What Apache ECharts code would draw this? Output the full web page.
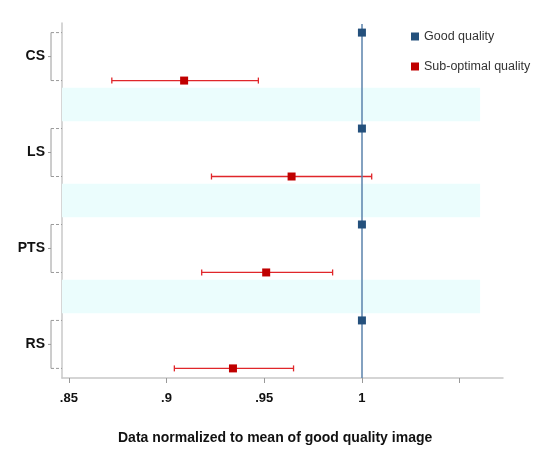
<!DOCTYPE html>
<html>
<head>
<meta charset="utf-8">
<script src="https://cdn.jsdelivr.net/npm/echarts@6/dist/echarts.min.js"></script>
<style>
  html, body { margin: 0; padding: 0; background: #fff; }
  #chart { width: 539px; height: 450px; }
</style>
</head>
<body>
<div id="chart"></div>
<script>
// 分组（自上而下）
var groups = ['CS', 'LS', 'PTS', 'RS'];
// 次优质量：均值及置信区间
var subMean = [0.909, 0.964, 0.951, 0.934];
var subLow = [0.872, 0.923, 0.918, 0.904];
var subHigh = [0.947, 1.005, 0.985, 0.965];
// 良好质量（归一化基准）
var goodMean = [1, 1, 1, 1];
// x 轴刻度
var xTicks = [0.85, 0.9, 0.95, 1, 1.05];
var xTickLabels = ['.85', '.9', '.95', '1', ''];

var FONT = "'Liberation Sans', Arial, sans-serif";

// 每组占两行：良好在上，次优在下
var goodData = goodMean.map(function (v, i) { return [v, i * 2]; });
var subData = subMean.map(function (v, i) { return [v, i * 2 + 1]; });
var errData = subLow.map(function (v, i) { return [v, subHigh[i], i * 2 + 1]; });
var bracketData = groups.map(function (g, i) { return [i * 2, i * 2 + 1]; });
var bands = [];
for (var i = 0; i < groups.length - 1; i++) {
    bands.push([{ yAxis: i * 2 + 1.15, xAxis: 0.8465 }, { yAxis: i * 2 + 1.85, xAxis: 1.0605 }]);
}

var myChart = echarts.init(document.getElementById('chart'));

myChart.setOption({
    animation: false,
    grid: { left: 62, right: 36, top: 23, bottom: 72 },
    legend: {
        orient: 'vertical',
        left: 406,
        top: 25,
        itemGap: 17,
        itemWidth: 8,
        itemHeight: 8,
        icon: 'rect',
        textStyle: { fontFamily: FONT, fontSize: 12.5, color: '#333' },
        data: ['Good quality', 'Sub-optimal quality']
    },
    graphic: [{
        type: 'text',
        left: 118,
        top: 431,
        style: {
            text: 'Data normalized to mean of good quality image',
            font: "bold 14px " + FONT,
            fill: '#111'
        }
    }],
    xAxis: {
        type: 'value',
        position: 'bottom',
        min: 0.8465,
        max: 1.0722,
        splitLine: { show: false },
        axisLine: { show: true, onZero: false, lineStyle: { color: '#c8c8c8', width: 1.5 } },
        axisTick: { show: true, customValues: xTicks, length: 5, lineStyle: { color: '#999' } },
        axisLabel: {
            customValues: xTicks,
            margin: 14,
            fontFamily: FONT,
            fontWeight: 'bold',
            fontSize: 13,
            color: '#111',
            formatter: function (v) {
                var k = xTicks.findIndex(function (t) { return Math.abs(t - v) < 1e-6; });
                return k >= 0 ? xTickLabels[k] : '';
            }
        }
    },
    yAxis: {
        type: 'value',
        position: 'left',
        inverse: true,
        min: -0.2,
        max: 7.2,
        splitLine: { show: false },
        axisLine: { show: true, onZero: false, lineStyle: { color: '#c8c8c8', width: 1.5 } },
        axisTick: { show: false },
        axisLabel: {
            customValues: groups.map(function (g, i) { return i * 2 + 0.5; }),
            margin: 17,
            fontFamily: FONT,
            fontWeight: 'bold',
            fontSize: 14,
            color: '#111',
            formatter: function (v) { return groups[Math.round((v - 0.5) / 2)]; }
        }
    },
    series: [
        {
            // 分组括号
            type: 'custom',
            silent: true,
            clip: false,
            z: 1,
            data: bracketData,
            renderItem: function (params, api) {
                var top = api.coord([0.8465, api.value(0)]);
                var bot = api.coord([0.8465, api.value(1)]);
                var x0 = top[0];
                var bx = x0 - 11;
                var mid = (top[1] + bot[1]) / 2;
                var st = { stroke: '#9a9a9a', lineWidth: 1 };
                var dash = { stroke: '#9a9a9a', lineWidth: 1, lineDash: [3, 2] };
                return {
                    type: 'group',
                    children: [
                        { type: 'line', shape: { x1: bx, y1: top[1], x2: bx, y2: bot[1] }, style: st },
                        { type: 'line', shape: { x1: bx, y1: top[1], x2: x0, y2: top[1] }, style: dash },
                        { type: 'line', shape: { x1: bx, y1: bot[1], x2: x0, y2: bot[1] }, style: dash },
                        { type: 'line', shape: { x1: bx - 3, y1: mid, x2: bx, y2: mid }, style: st }
                    ]
                };
            }
        },
        {
            // 次优质量误差线
            type: 'custom',
            silent: true,
            z: 3,
            data: errData,
            renderItem: function (params, api) {
                var a = api.coord([api.value(0), api.value(2)]);
                var b = api.coord([api.value(1), api.value(2)]);
                var st = { stroke: '#e0262a', lineWidth: 1.3 };
                return {
                    type: 'group',
                    children: [
                        { type: 'line', shape: { x1: a[0], y1: a[1], x2: b[0], y2: b[1] }, style: st },
                        { type: 'line', shape: { x1: a[0], y1: a[1] - 3, x2: a[0], y2: a[1] + 3 }, style: st },
                        { type: 'line', shape: { x1: b[0], y1: b[1] - 3, x2: b[0], y2: b[1] + 3 }, style: st }
                    ]
                };
            },
            markArea: {
                silent: true,
                itemStyle: { color: '#ebfdfd' },
                data: bands
            }
        },
        {
            name: 'Good quality',
            type: 'scatter',
            symbol: 'rect',
            symbolSize: 8,
            z: 5,
            itemStyle: { color: '#24507c', opacity: 1 },
            data: goodData,
            markLine: {
                silent: true,
                symbol: 'none',
                label: { show: false },
                lineStyle: { color: '#5a82ab', width: 1.5, type: 'solid' },
                data: [[{ coord: [1, -0.18] }, { coord: [1, 7.2] }]]
            }
        },
        {
            name: 'Sub-optimal quality',
            type: 'scatter',
            symbol: 'rect',
            symbolSize: 8,
            z: 5,
            itemStyle: { color: '#c00000', opacity: 1 },
            data: subData
        }
    ]
});
</script>
</body>
</html>
